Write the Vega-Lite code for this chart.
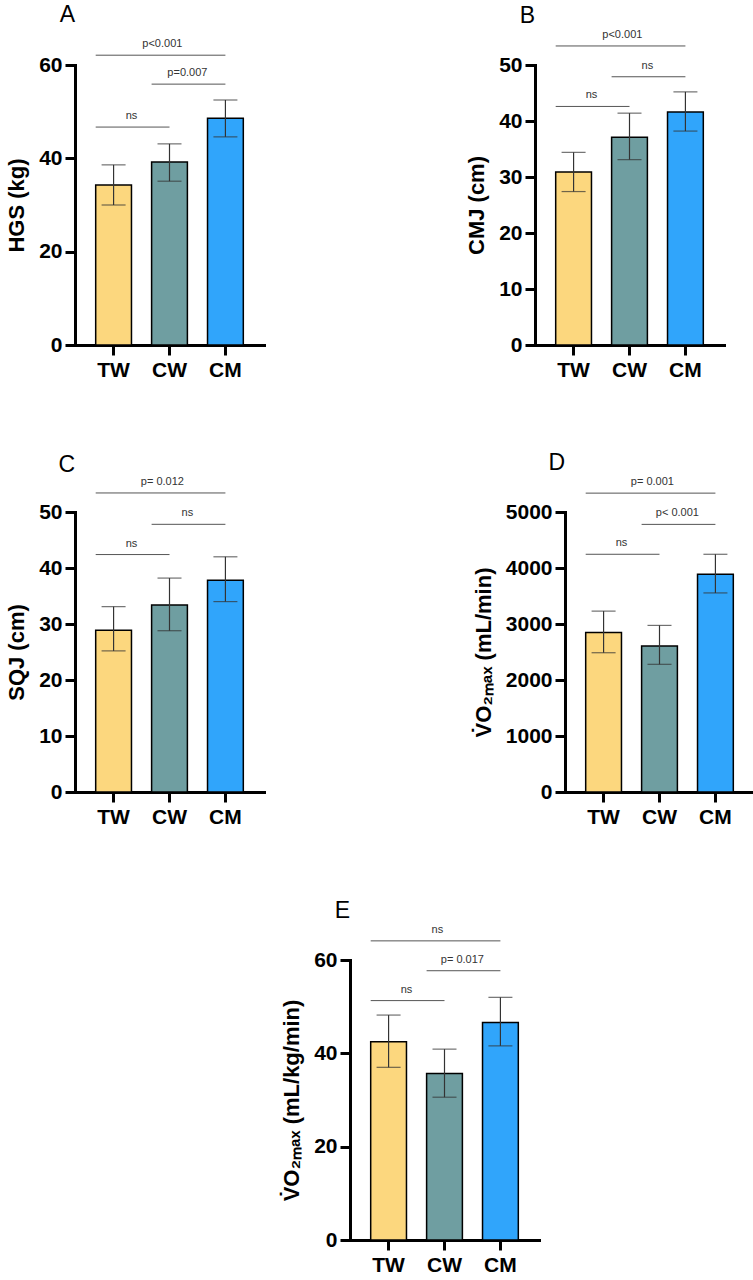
{
  "$schema": "https://vega.github.io/schema/vega-lite/v6.json",
  "background": "white",
  "padding": {"left": 5, "top": 4, "right": 0, "bottom": 5},
  "datasets": {
    "bars": [
      {"panel": "A", "group": "TW", "mean": 34.3, "lo": 30.0, "hi": 38.6},
      {"panel": "A", "group": "CW", "mean": 39.2, "lo": 35.1, "hi": 43.1},
      {"panel": "A", "group": "CM", "mean": 48.6, "lo": 44.6, "hi": 52.5},
      {"panel": "B", "group": "TW", "mean": 30.9, "lo": 27.4, "hi": 34.4},
      {"panel": "B", "group": "CW", "mean": 37.1, "lo": 33.1, "hi": 41.4},
      {"panel": "B", "group": "CM", "mean": 41.6, "lo": 38.2, "hi": 45.2},
      {"panel": "C", "group": "TW", "mean": 28.9, "lo": 25.2, "hi": 33.1},
      {"panel": "C", "group": "CW", "mean": 33.4, "lo": 28.8, "hi": 38.2},
      {"panel": "C", "group": "CM", "mean": 37.8, "lo": 34.0, "hi": 42.0},
      {"panel": "D", "group": "TW", "mean": 2850, "lo": 2487, "hi": 3230},
      {"panel": "D", "group": "CW", "mean": 2606, "lo": 2280, "hi": 2975},
      {"panel": "D", "group": "CM", "mean": 3889, "lo": 3555, "hi": 4245},
      {"panel": "E", "group": "TW", "mean": 42.5, "lo": 37.0, "hi": 48.2},
      {"panel": "E", "group": "CW", "mean": 35.7, "lo": 30.6, "hi": 40.9},
      {"panel": "E", "group": "CM", "mean": 46.6, "lo": 41.6, "hi": 52.0}
    ],
    "comps": [
      {"panel": "A", "g1": "TW", "g2": "CM", "yv": 62.1, "label": "p<0.001"},
      {"panel": "A", "g1": "CW", "g2": "CM", "yv": 55.9, "label": "p=0.007"},
      {"panel": "A", "g1": "TW", "g2": "CW", "yv": 46.7, "label": "ns"},
      {"panel": "B", "g1": "TW", "g2": "CM", "yv": 53.4, "label": "p<0.001"},
      {"panel": "B", "g1": "CW", "g2": "CM", "yv": 47.9, "label": "ns"},
      {"panel": "B", "g1": "TW", "g2": "CW", "yv": 42.6, "label": "ns"},
      {"panel": "C", "g1": "TW", "g2": "CM", "yv": 53.4, "label": "p= 0.012"},
      {"panel": "C", "g1": "CW", "g2": "CM", "yv": 47.8, "label": "ns"},
      {"panel": "C", "g1": "TW", "g2": "CW", "yv": 42.4, "label": "ns"},
      {"panel": "D", "g1": "TW", "g2": "CM", "yv": 5337, "label": "p= 0.001"},
      {"panel": "D", "g1": "CW", "g2": "CM", "yv": 4779, "label": "p< 0.001"},
      {"panel": "D", "g1": "TW", "g2": "CW", "yv": 4245, "label": "ns"},
      {"panel": "E", "g1": "TW", "g2": "CM", "yv": 64.1, "label": "ns"},
      {"panel": "E", "g1": "CW", "g2": "CM", "yv": 57.7, "label": "p= 0.017"},
      {"panel": "E", "g1": "TW", "g2": "CW", "yv": 51.3, "label": "ns"}
    ]
  },
  "config": {
    "view": {"stroke": null},
    "font": "Liberation Sans",
    "axis": {
      "grid": false,
      "domainColor": "black",
      "domainWidth": 3,
      "domainCap": "square",
      "tickColor": "black",
      "tickWidth": 3,
      "tickSize": 10,
      "labelFont": "Liberation Sans",
      "labelFontSize": 21,
      "labelFontWeight": "bold",
      "labelColor": "black",
      "titleFont": "Liberation Sans",
      "titleFontSize": 22,
      "titleFontWeight": "bold",
      "titleColor": "black"
    },
    "axisX": {"labelAngle": 0, "labelPadding": 4},
    "axisY": {"labelPadding": 3, "titlePadding": 10},
    "title": {
      "font": "Liberation Sans",
      "fontSize": 23,
      "fontWeight": "normal",
      "color": "black",
      "anchor": "start",
      "frame": "group",
      "baseline": "alphabetic"
    }
  },
  "spacing": 72,
  "vconcat": [
    {
      "bounds": "flush",
      "spacing": 271,
      "hconcat": [
        {
          "width": 189, "height": 280,
          "title": {"text": "A", "offset": 11, "align": "right"},
          "layer": [
            {
              "data": {"name": "bars"},
              "transform": [{"filter": "datum.panel == 'A'"}],
              "layer": [
                {
                  "mark": {"type": "bar", "stroke": "black", "strokeWidth": 1.5},
                  "encoding": {
                    "x": {"field": "group", "type": "nominal", "title": null, "scale": {"domain": ["TW", "CW", "CM"], "paddingInner": 0.36, "paddingOuter": 0.37}},
                    "y": {"field": "mean", "type": "quantitative", "title": "HGS (kg)", "scale": {"domain": [0, 60], "nice": false}, "axis": {"values": [0, 20, 40, 60]}},
                    "color": {"field": "group", "type": "nominal", "scale": {"domain": ["TW", "CW", "CM"], "range": ["#FCD77E", "#6F9EA1", "#30A5FB"]}, "legend": null}
                  }
                },
                {
                  "mark": {"type": "errorbar", "color": "#333333", "thickness": 1.2, "ticks": {"size": 24}},
                  "encoding": {
                    "x": {"field": "group", "type": "nominal", "title": null},
                    "y": {"field": "lo", "type": "quantitative", "title": "HGS (kg)"},
                    "y2": {"field": "hi"}
                  }
                }
              ]
            },
            {
              "data": {"name": "comps"},
              "transform": [{"filter": "datum.panel == 'A'"}],
              "layer": [
                {
                  "mark": {"type": "rule", "color": "#555555", "strokeWidth": 1},
                  "encoding": {
                    "x": {"field": "g1", "type": "nominal", "bandPosition": 0, "title": null},
                    "x2": {"field": "g2", "bandPosition": 0.5},
                    "y": {"field": "yv", "type": "quantitative", "title": "HGS (kg)"}
                  }
                },
                {
                  "transform": [{"filter": "datum.g1 != 'TW' || datum.g2 != 'CM'"}],
                  "mark": {"type": "text", "dy": -8, "fontSize": 11, "color": "#333333", "baseline": "alphabetic"},
                  "encoding": {
                    "x": {"field": "g1", "type": "nominal", "bandPosition": 1, "title": null},
                    "y": {"field": "yv", "type": "quantitative", "title": "HGS (kg)"},
                    "text": {"field": "label"}
                  }
                },
                {
                  "transform": [{"filter": "datum.g1 == 'TW' && datum.g2 == 'CM'"}],
                  "mark": {"type": "text", "dy": -8, "fontSize": 11, "color": "#333333", "baseline": "alphabetic"},
                  "encoding": {
                    "x": {"datum": "CW", "type": "nominal", "bandPosition": 0.3, "title": null},
                    "y": {"field": "yv", "type": "quantitative", "title": "HGS (kg)"},
                    "text": {"field": "label"}
                  }
                }
              ]
            }
          ]
        },
        {
          "width": 189, "height": 280,
          "title": {"text": "B", "offset": 1, "align": "right"},
          "layer": [
            {
              "data": {"name": "bars"},
              "transform": [{"filter": "datum.panel == 'B'"}],
              "layer": [
                {
                  "mark": {"type": "bar", "stroke": "black", "strokeWidth": 1.5},
                  "encoding": {
                    "x": {"field": "group", "type": "nominal", "title": null, "scale": {"domain": ["TW", "CW", "CM"], "paddingInner": 0.36, "paddingOuter": 0.37}},
                    "y": {"field": "mean", "type": "quantitative", "title": "CMJ (cm)", "scale": {"domain": [0, 50], "nice": false}, "axis": {"values": [0, 10, 20, 30, 40, 50]}},
                    "color": {"field": "group", "type": "nominal", "scale": {"domain": ["TW", "CW", "CM"], "range": ["#FCD77E", "#6F9EA1", "#30A5FB"]}, "legend": null}
                  }
                },
                {
                  "mark": {"type": "errorbar", "color": "#333333", "thickness": 1.2, "ticks": {"size": 24}},
                  "encoding": {
                    "x": {"field": "group", "type": "nominal", "title": null},
                    "y": {"field": "lo", "type": "quantitative", "title": "CMJ (cm)"},
                    "y2": {"field": "hi"}
                  }
                }
              ]
            },
            {
              "data": {"name": "comps"},
              "transform": [{"filter": "datum.panel == 'B'"}],
              "layer": [
                {
                  "mark": {"type": "rule", "color": "#555555", "strokeWidth": 1},
                  "encoding": {
                    "x": {"field": "g1", "type": "nominal", "bandPosition": 0, "title": null},
                    "x2": {"field": "g2", "bandPosition": 0.5},
                    "y": {"field": "yv", "type": "quantitative", "title": "CMJ (cm)"}
                  }
                },
                {
                  "transform": [{"filter": "datum.g1 != 'TW' || datum.g2 != 'CM'"}],
                  "mark": {"type": "text", "dy": -8, "fontSize": 11, "color": "#333333", "baseline": "alphabetic"},
                  "encoding": {
                    "x": {"field": "g1", "type": "nominal", "bandPosition": 1, "title": null},
                    "y": {"field": "yv", "type": "quantitative", "title": "CMJ (cm)"},
                    "text": {"field": "label"}
                  }
                },
                {
                  "transform": [{"filter": "datum.g1 == 'TW' && datum.g2 == 'CM'"}],
                  "mark": {"type": "text", "dy": -8, "fontSize": 11, "color": "#333333", "baseline": "alphabetic"},
                  "encoding": {
                    "x": {"datum": "CW", "type": "nominal", "bandPosition": 0.3, "title": null},
                    "y": {"field": "yv", "type": "quantitative", "title": "CMJ (cm)"},
                    "text": {"field": "label"}
                  }
                }
              ]
            }
          ]
        }
      ]
    },
    {
      "bounds": "flush",
      "spacing": 301,
      "hconcat": [
        {
          "width": 189, "height": 280,
          "title": {"text": "C", "offset": -1, "align": "right"},
          "layer": [
            {
              "data": {"name": "bars"},
              "transform": [{"filter": "datum.panel == 'C'"}],
              "layer": [
                {
                  "mark": {"type": "bar", "stroke": "black", "strokeWidth": 1.5},
                  "encoding": {
                    "x": {"field": "group", "type": "nominal", "title": null, "scale": {"domain": ["TW", "CW", "CM"], "paddingInner": 0.36, "paddingOuter": 0.37}},
                    "y": {"field": "mean", "type": "quantitative", "title": "SQJ (cm)", "scale": {"domain": [0, 50], "nice": false}, "axis": {"values": [0, 10, 20, 30, 40, 50]}},
                    "color": {"field": "group", "type": "nominal", "scale": {"domain": ["TW", "CW", "CM"], "range": ["#FCD77E", "#6F9EA1", "#30A5FB"]}, "legend": null}
                  }
                },
                {
                  "mark": {"type": "errorbar", "color": "#333333", "thickness": 1.2, "ticks": {"size": 24}},
                  "encoding": {
                    "x": {"field": "group", "type": "nominal", "title": null},
                    "y": {"field": "lo", "type": "quantitative", "title": "SQJ (cm)"},
                    "y2": {"field": "hi"}
                  }
                }
              ]
            },
            {
              "data": {"name": "comps"},
              "transform": [{"filter": "datum.panel == 'C'"}],
              "layer": [
                {
                  "mark": {"type": "rule", "color": "#555555", "strokeWidth": 1},
                  "encoding": {
                    "x": {"field": "g1", "type": "nominal", "bandPosition": 0, "title": null},
                    "x2": {"field": "g2", "bandPosition": 0.5},
                    "y": {"field": "yv", "type": "quantitative", "title": "SQJ (cm)"}
                  }
                },
                {
                  "transform": [{"filter": "datum.g1 != 'TW' || datum.g2 != 'CM'"}],
                  "mark": {"type": "text", "dy": -8, "fontSize": 11, "color": "#333333", "baseline": "alphabetic"},
                  "encoding": {
                    "x": {"field": "g1", "type": "nominal", "bandPosition": 1, "title": null},
                    "y": {"field": "yv", "type": "quantitative", "title": "SQJ (cm)"},
                    "text": {"field": "label"}
                  }
                },
                {
                  "transform": [{"filter": "datum.g1 == 'TW' && datum.g2 == 'CM'"}],
                  "mark": {"type": "text", "dy": -8, "fontSize": 11, "color": "#333333", "baseline": "alphabetic"},
                  "encoding": {
                    "x": {"datum": "CW", "type": "nominal", "bandPosition": 0.3, "title": null},
                    "y": {"field": "yv", "type": "quantitative", "title": "SQJ (cm)"},
                    "text": {"field": "label"}
                  }
                }
              ]
            }
          ]
        },
        {
          "width": 189, "height": 280,
          "title": {"text": "D", "offset": 1, "align": "right"},
          "layer": [
            {
              "data": {"name": "bars"},
              "transform": [{"filter": "datum.panel == 'D'"}],
              "layer": [
                {
                  "mark": {"type": "bar", "stroke": "black", "strokeWidth": 1.5},
                  "encoding": {
                    "x": {"field": "group", "type": "nominal", "title": null, "scale": {"domain": ["TW", "CW", "CM"], "paddingInner": 0.36, "paddingOuter": 0.37}},
                    "y": {"field": "mean", "type": "quantitative", "title": "V\u0307O\u2082\u2098\u2090\u2093 (mL/min)", "scale": {"domain": [0, 5000], "nice": false}, "axis": {"values": [0, 1000, 2000, 3000, 4000, 5000], "format": "d"}},
                    "color": {"field": "group", "type": "nominal", "scale": {"domain": ["TW", "CW", "CM"], "range": ["#FCD77E", "#6F9EA1", "#30A5FB"]}, "legend": null}
                  }
                },
                {
                  "mark": {"type": "errorbar", "color": "#333333", "thickness": 1.2, "ticks": {"size": 24}},
                  "encoding": {
                    "x": {"field": "group", "type": "nominal", "title": null},
                    "y": {"field": "lo", "type": "quantitative", "title": "V\u0307O\u2082\u2098\u2090\u2093 (mL/min)"},
                    "y2": {"field": "hi"}
                  }
                }
              ]
            },
            {
              "data": {"name": "comps"},
              "transform": [{"filter": "datum.panel == 'D'"}],
              "layer": [
                {
                  "mark": {"type": "rule", "color": "#555555", "strokeWidth": 1},
                  "encoding": {
                    "x": {"field": "g1", "type": "nominal", "bandPosition": 0, "title": null},
                    "x2": {"field": "g2", "bandPosition": 0.5},
                    "y": {"field": "yv", "type": "quantitative", "title": "V\u0307O\u2082\u2098\u2090\u2093 (mL/min)"}
                  }
                },
                {
                  "transform": [{"filter": "datum.g1 != 'TW' || datum.g2 != 'CM'"}],
                  "mark": {"type": "text", "dy": -8, "fontSize": 11, "color": "#333333", "baseline": "alphabetic"},
                  "encoding": {
                    "x": {"field": "g1", "type": "nominal", "bandPosition": 1, "title": null},
                    "y": {"field": "yv", "type": "quantitative", "title": "V\u0307O\u2082\u2098\u2090\u2093 (mL/min)"},
                    "text": {"field": "label"}
                  }
                },
                {
                  "transform": [{"filter": "datum.g1 == 'TW' && datum.g2 == 'CM'"}],
                  "mark": {"type": "text", "dy": -8, "fontSize": 11, "color": "#333333", "baseline": "alphabetic"},
                  "encoding": {
                    "x": {"datum": "CW", "type": "nominal", "bandPosition": 0.3, "title": null},
                    "y": {"field": "yv", "type": "quantitative", "title": "V\u0307O\u2082\u2098\u2090\u2093 (mL/min)"},
                    "text": {"field": "label"}
                  }
                }
              ]
            }
          ]
        }
      ]
    },
    {
      "bounds": "flush",
      "spacing": 200,
      "hconcat": [
        {
          "data": {"values": []},
          "mark": "point",
          "width": 75,
          "height": 280
        },
        {
          "width": 189, "height": 280,
          "title": {"text": "E", "offset": 1, "align": "right"},
          "layer": [
            {
              "data": {"name": "bars"},
              "transform": [{"filter": "datum.panel == 'E'"}],
              "layer": [
                {
                  "mark": {"type": "bar", "stroke": "black", "strokeWidth": 1.5},
                  "encoding": {
                    "x": {"field": "group", "type": "nominal", "title": null, "scale": {"domain": ["TW", "CW", "CM"], "paddingInner": 0.36, "paddingOuter": 0.37}},
                    "y": {"field": "mean", "type": "quantitative", "title": "V\u0307O\u2082\u2098\u2090\u2093 (mL/kg/min)", "scale": {"domain": [0, 60], "nice": false}, "axis": {"values": [0, 20, 40, 60]}},
                    "color": {"field": "group", "type": "nominal", "scale": {"domain": ["TW", "CW", "CM"], "range": ["#FCD77E", "#6F9EA1", "#30A5FB"]}, "legend": null}
                  }
                },
                {
                  "mark": {"type": "errorbar", "color": "#333333", "thickness": 1.2, "ticks": {"size": 24}},
                  "encoding": {
                    "x": {"field": "group", "type": "nominal", "title": null},
                    "y": {"field": "lo", "type": "quantitative", "title": "V\u0307O\u2082\u2098\u2090\u2093 (mL/kg/min)"},
                    "y2": {"field": "hi"}
                  }
                }
              ]
            },
            {
              "data": {"name": "comps"},
              "transform": [{"filter": "datum.panel == 'E'"}],
              "layer": [
                {
                  "mark": {"type": "rule", "color": "#555555", "strokeWidth": 1},
                  "encoding": {
                    "x": {"field": "g1", "type": "nominal", "bandPosition": 0, "title": null},
                    "x2": {"field": "g2", "bandPosition": 0.5},
                    "y": {"field": "yv", "type": "quantitative", "title": "V\u0307O\u2082\u2098\u2090\u2093 (mL/kg/min)"}
                  }
                },
                {
                  "transform": [{"filter": "datum.g1 != 'TW' || datum.g2 != 'CM'"}],
                  "mark": {"type": "text", "dy": -8, "fontSize": 11, "color": "#333333", "baseline": "alphabetic"},
                  "encoding": {
                    "x": {"field": "g1", "type": "nominal", "bandPosition": 1, "title": null},
                    "y": {"field": "yv", "type": "quantitative", "title": "V\u0307O\u2082\u2098\u2090\u2093 (mL/kg/min)"},
                    "text": {"field": "label"}
                  }
                },
                {
                  "transform": [{"filter": "datum.g1 == 'TW' && datum.g2 == 'CM'"}],
                  "mark": {"type": "text", "dy": -8, "fontSize": 11, "color": "#333333", "baseline": "alphabetic"},
                  "encoding": {
                    "x": {"datum": "CW", "type": "nominal", "bandPosition": 0.3, "title": null},
                    "y": {"field": "yv", "type": "quantitative", "title": "V\u0307O\u2082\u2098\u2090\u2093 (mL/kg/min)"},
                    "text": {"field": "label"}
                  }
                }
              ]
            }
          ]
        }
      ]
    }
  ]
}
